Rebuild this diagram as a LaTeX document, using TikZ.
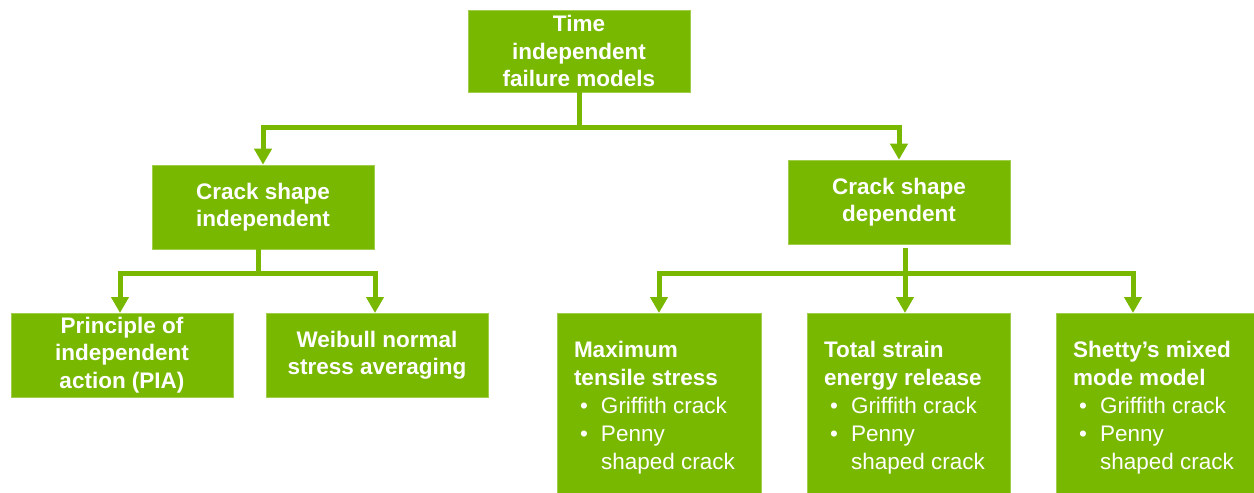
\documentclass[tikz,border=0pt]{standalone}
\usepackage{fontspec}
\setmainfont{Liberation Sans}
\usetikzlibrary{arrows.meta}
\definecolor{nvgreen}{HTML}{78B800}
\tikzset{
  box/.style={fill=nvgreen, draw=nvgreen!70!white, line width=0.6pt, text=white, inner sep=0pt,
    font=\bfseries\fontsize{22.5}{27.5}\selectfont, align=center},
  leafbox/.style={fill=nvgreen, draw=nvgreen!70!white, line width=0.6pt, text=white, inner sep=0pt,
    font=\fontsize{22.5}{28}\selectfont},
  conn/.style={draw=nvgreen, line width=5pt, line join=miter},
  arr/.style={conn, -{Triangle[width=17pt,length=16pt]}}
}
\newcommand{\bul}{\hspace*{6pt}\makebox[21pt][l]{\textbullet}}
\newcommand{\leaf}[3]{\parbox[c][176pt][c]{#1}{\vspace*{10pt}\raggedright
  \textbf{#2}\\\textbf{#3}\\\bul Griffith crack\\\bul Penny\\\hspace*{27pt}shaped crack}}
\begin{document}
\begin{tikzpicture}[x=1pt,y=-1pt]
\useasboundingbox (0,0) rectangle (1254,493);
% level 0
\node[box, minimum width=222pt, minimum height=82pt] (top) at (579,51) {Time\\independent\\failure models};
% level 1
\node[box, minimum width=222pt, minimum height=84pt] (csi) at (263,207) {Crack shape\\independent};
\node[box, minimum width=222pt, minimum height=84pt] (csd) at (899,202) {Crack shape\\dependent};
% level 2 left
\node[box, minimum width=222pt, minimum height=84pt] (pia) at (122,355) {Principle of\\independent\\action (PIA)};
\node[box, minimum width=222pt, minimum height=84pt] (wei) at (377,355) {Weibull normal\\stress averaging};
% level 2 right
\node[leafbox, minimum width=204pt, minimum height=180pt] (mts) at (659,403)
  {\leaf{170pt}{Maximum}{tensile stress}};
\node[leafbox, minimum width=203pt, minimum height=180pt] (tse) at (908.5,403)
  {\leaf{169pt}{Total strain}{energy release}};
\node[leafbox, minimum width=198pt, minimum height=180pt] (sht) at (1155,403)
  {\leaf{164pt}{Shetty’s mixed}{mode model}};
% connectors
\coordinate (j0) at (579,127);
\coordinate (j1) at (258,273);
\coordinate (j2) at (905,273);
\draw[conn] (top.south) -- (j0);
\draw[arr] (j0) -| (csi.north);
\draw[arr] (j0) -| (csd.north);
\draw[conn] (csi.south -| j1) -- (j1);
\draw[arr] (j1) -| (120,313);
\draw[arr] (j1) -| (375,313);
\draw[conn] (905,248) -- (j2);
\draw[arr] (j2) -| (659,313);
\draw[arr] (j2) -- (905,313);
\draw[arr] (j2) -| (1133,313);
\end{tikzpicture}
\end{document}
